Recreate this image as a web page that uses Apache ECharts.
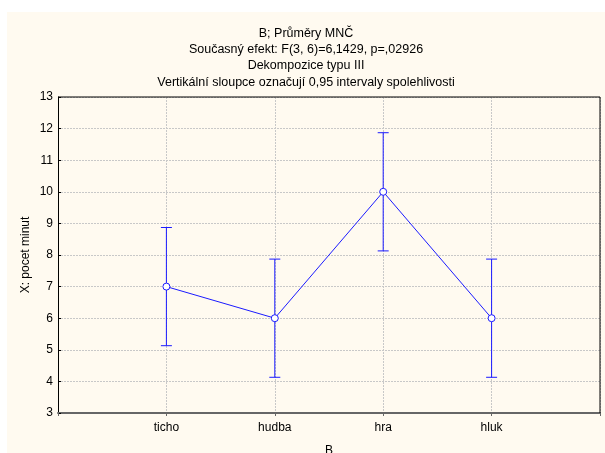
<!DOCTYPE html>
<html>
<head>
<meta charset="utf-8">
<script src="https://cdn.jsdelivr.net/npm/echarts@6/dist/echarts.min.js"></script>
<style>
  html, body { margin: 0; padding: 0; background: #fff; }
  #chart { position: absolute; left: 7px; top: 12px; width: 598px; height: 441px; background: #fffaf0; }
</style>
</head>
<body>
<div id="chart"></div>
<script>
// data
const categories = ['', 'ticho', 'hudba', 'hra', 'hluk', ''];
const means = [null, 7, 6, 10, 6, null];
const lower = [null, 5.13, 4.13, 8.13, 4.13, null];
const upper = [null, 8.87, 7.87, 11.87, 7.87, null];
const titleLines = [
  'B; Průměry MNČ',
  'Současný efekt: F(3, 6)=6,1429, p=,02926',
  'Dekompozice typu III',
  'Vertikální sloupce označují 0,95 intervaly spolehlivosti'
];

const blue = '#1a1aff';
const font = 'Liberation Sans, Arial, sans-serif';

const errData = [];
for (let i = 0; i < categories.length; i++) {
  if (means[i] != null) errData.push([i, lower[i], upper[i]]);
}

const chart = echarts.init(document.getElementById('chart'));
chart.setOption({
  animation: false,
  title: {
    text: titleLines.join('\n'),
    left: 'center',
    top: 13,
    padding: [0, 0, 0, 46],
    textStyle: { fontFamily: font, fontSize: 12.5, fontWeight: 'normal', color: '#000', lineHeight: 16.3 }
  },
  grid: { left: 51, right: 5, top: 85, bottom: 40, outerBoundsMode: 'none' },
  xAxis: {
    type: 'category',
    data: categories,
    boundaryGap: false,
    name: 'B',
    nameLocation: 'middle',
    nameGap: 32,
    nameMoveOverlap: false,
    nameTextStyle: { fontFamily: font, fontSize: 12, color: '#000' },
    axisLine: { lineStyle: { color: '#666', width: 2 } },
    axisTick: { length: 3, lineStyle: { color: '#666' } },
    axisLabel: { fontFamily: font, fontSize: 12, color: '#000', margin: 9 },
    splitLine: { show: true, lineStyle: { color: '#c8c8c8', type: [2, 1] } }
  },
  yAxis: {
    type: 'value',
    min: 3,
    max: 13,
    interval: 1,
    name: 'X: pocet minut',
    nameLocation: 'middle',
    nameGap: 32,
    nameMoveOverlap: false,
    nameTextStyle: { fontFamily: font, fontSize: 12, color: '#000', verticalAlign: 'middle' },
    axisLine: { show: true, lineStyle: { color: '#000', width: 1 } },
    axisTick: { show: true, inside: true, length: 3, lineStyle: { color: '#000' } },
    axisLabel: { fontFamily: font, fontSize: 12, color: '#000', margin: 5 },
    splitLine: { show: true, lineStyle: { color: '#c8c8c8', type: [2, 1] } }
  },
  graphic: [],
  series: [
    {
      type: 'custom',
      z: 3,
      data: errData,
      renderItem: function (params, api) {
        const x = api.value(0);
        const lo = api.coord([x, api.value(1)]);
        const hi = api.coord([x, api.value(2)]);
        const w = 5.5;
        const st = { stroke: blue, lineWidth: 1 };
        return {
          type: 'group',
          children: [
            { type: 'line', shape: { x1: lo[0], y1: lo[1], x2: hi[0], y2: hi[1] }, style: st },
            { type: 'line', shape: { x1: lo[0] - w, y1: lo[1], x2: lo[0] + w, y2: lo[1] }, style: st },
            { type: 'line', shape: { x1: hi[0] - w, y1: hi[1], x2: hi[0] + w, y2: hi[1] }, style: st }
          ]
        };
      }
    },
    {
      type: 'line',
      z: 4,
      data: means,
      connectNulls: false,
      symbol: 'circle',
      symbolSize: 7,
      lineStyle: { color: blue, width: 1 },
      itemStyle: { color: '#fff', borderColor: blue, borderWidth: 1 }
    }
  ]
});

// frame on the top and right side of the plot
const g = chart.getModel().getComponent('grid').coordinateSystem.getRect();
chart.setOption({
  graphic: [{
    type: 'polyline',
    z: 10,
    shape: { points: [[g.x, g.y], [g.x + g.width, g.y], [g.x + g.width, g.y + g.height]] },
    style: { stroke: '#000', lineWidth: 1, fill: null }
  }]
});
</script>
</body>
</html>
